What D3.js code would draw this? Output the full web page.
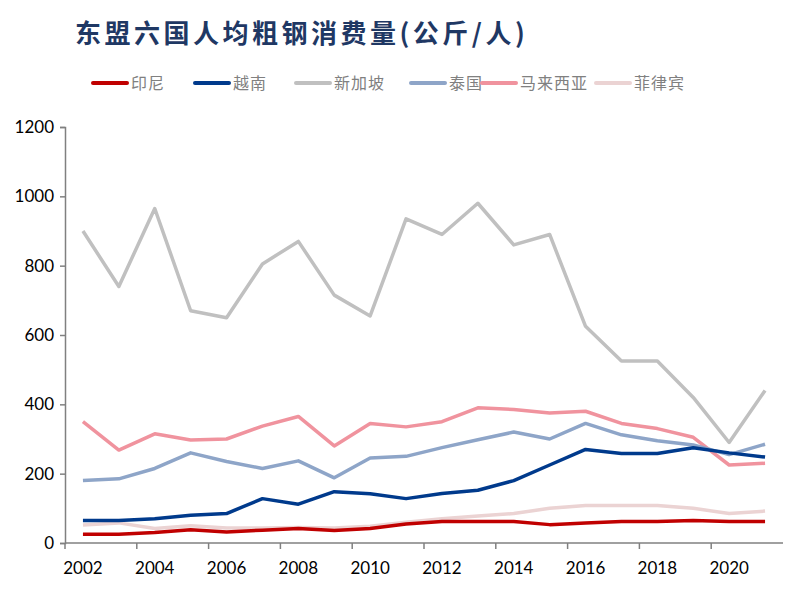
<!DOCTYPE html>
<html>
<head>
<meta charset="utf-8">
<script src="https://cdn.jsdelivr.net/npm/d3@7"></script>
<style>
  body { margin: 0; background: #fff; }
</style>
</head>
<body>
<div id="chart"></div>
<script>
const years = d3.range(2002, 2022);
const seriesNames = ["印尼", "越南", "新加坡", "泰国", "马来西亚", "菲律宾"];
const colors = ["#C00000", "#003A8C", "#C0C0C0", "#8EA5C8", "#F0939E", "#EBD3D3"];

const indonesia = [25, 25, 30, 38, 32, 37, 42, 36, 42, 55, 62, 62, 62, 53, 58, 62, 62, 65, 62, 62];
const vietnam = [65, 65, 70, 80, 85, 128, 112, 148, 142, 128, 143, 152, 180, 225, 270, 258, 258, 275, 260, 248];
const singapore = [900, 740, 965, 670, 650, 805, 870, 715, 655, 935, 890, 980, 860, 890, 625, 525, 525, 420, 290, 440];
const thailand = [180, 185, 215, 260, 235, 215, 237, 188, 245, 250, 275, 298, 320, 300, 345, 312, 295, 283, 255, 285];
const malaysia = [350, 268, 315, 297, 300, 337, 365, 280, 345, 335, 350, 390, 385, 375, 380, 345, 330, 305, 225, 230];
const philippines = [52, 58, 42, 50, 43, 43, 45, 43, 48, 60, 70, 78, 85, 100, 108, 108, 108, 100, 85, 92];

const yTicks = [0, 200, 400, 600, 800, 1000, 1200];

const width = 807, height = 594;
const margin = {left: 65, right: 24, top: 127, bottom: 51};

// draw order: lighter series first so the bold ones sit on top
const drawOrder = [5, 2, 4, 3, 1, 0];
const allSeries = [indonesia, vietnam, singapore, thailand, malaysia, philippines];

const svg = d3.select("#chart").append("svg")
    .attr("width", width)
    .attr("height", height);

svg.append("text")
    .attr("x", 75)
    .attr("y", 43)
    .attr("font-family", "'Noto Sans CJK SC'")
    .attr("font-weight", "bold")
    .attr("font-size", 26)
    .attr("fill", "#1F3864")
    .attr("letter-spacing", "3.5px")
    .text("东盟六国人均粗钢消费量(公斤/人)");

const x = d3.scaleBand()
    .domain(years)
    .range([margin.left, width - margin.right]);

const y = d3.scaleLinear()
    .domain([0, 1200])
    .range([height - margin.bottom, margin.top]);

// y axis
const yAxis = svg.append("g")
    .attr("transform", `translate(${margin.left},0)`)
    .call(d3.axisLeft(y).tickValues(yTicks).tickFormat(d3.format("d")).tickSize(5).tickPadding(6));

// x axis: ticks on band edges every 2 years, labels at band centres
const xAxis = svg.append("g")
    .attr("transform", `translate(0,${height - margin.bottom})`);

xAxis.append("line")
    .attr("x1", margin.left).attr("x2", width - margin.right)
    .attr("stroke", "#808080").attr("stroke-width", 1.5);

xAxis.selectAll(".xtick")
    .data(years.filter(d => (d - 2002) % 2 === 0))
    .enter()
    .append("line")
    .attr("x1", d => x(d)).attr("x2", d => x(d))
    .attr("y1", 0).attr("y2", 6)
    .attr("stroke", "#808080").attr("stroke-width", 1.5);

xAxis.selectAll(".xlabel")
    .data(years.filter(d => (d - 2002) % 2 === 0))
    .enter()
    .append("text")
    .attr("x", d => x(d) + x.bandwidth() / 2)
    .attr("y", 31)
    .attr("text-anchor", "middle")
    .attr("font-family", "Lato, 'Liberation Sans'")
    .attr("font-size", 17)
    .attr("fill", "#000")
    .text(d => d);

yAxis.select(".domain").attr("stroke", "#808080").attr("stroke-width", 1.5);
yAxis.selectAll(".tick line").attr("stroke", "#808080").attr("stroke-width", 1.5);
yAxis.selectAll(".tick text")
    .attr("font-family", "Lato, 'Liberation Sans'")
    .attr("font-size", 17)
    .attr("fill", "#000");

const line = d3.line()
    .x((d, i) => x(years[i]) + x.bandwidth() / 2)
    .y(d => y(d));

drawOrder.forEach(k => {
    svg.append("path")
        .datum(allSeries[k])
        .attr("fill", "none")
        .attr("stroke", colors[k])
        .attr("stroke-width", 3.5)
        .attr("stroke-linejoin", "round")
        .attr("d", line);
});

// legend
const legendX = [93, 195, 296, 411, 482, 596];
const legend = svg.append("g");
seriesNames.forEach((name, i) => {
    const g = legend.append("g").attr("transform", `translate(${legendX[i]},83)`);
    g.append("line")
        .attr("x1", 0).attr("x2", 34)
        .attr("stroke", colors[i])
        .attr("stroke-width", 4)
        .attr("stroke-linecap", "round");
    g.append("text")
        .attr("x", 38)
        .attr("y", 6)
        .attr("font-family", "'Noto Sans CJK SC'")
        .attr("font-size", 16)
        .attr("letter-spacing", "1px")
        .attr("fill", "#808080")
        .text(name);
});
</script>
</body>
</html>
